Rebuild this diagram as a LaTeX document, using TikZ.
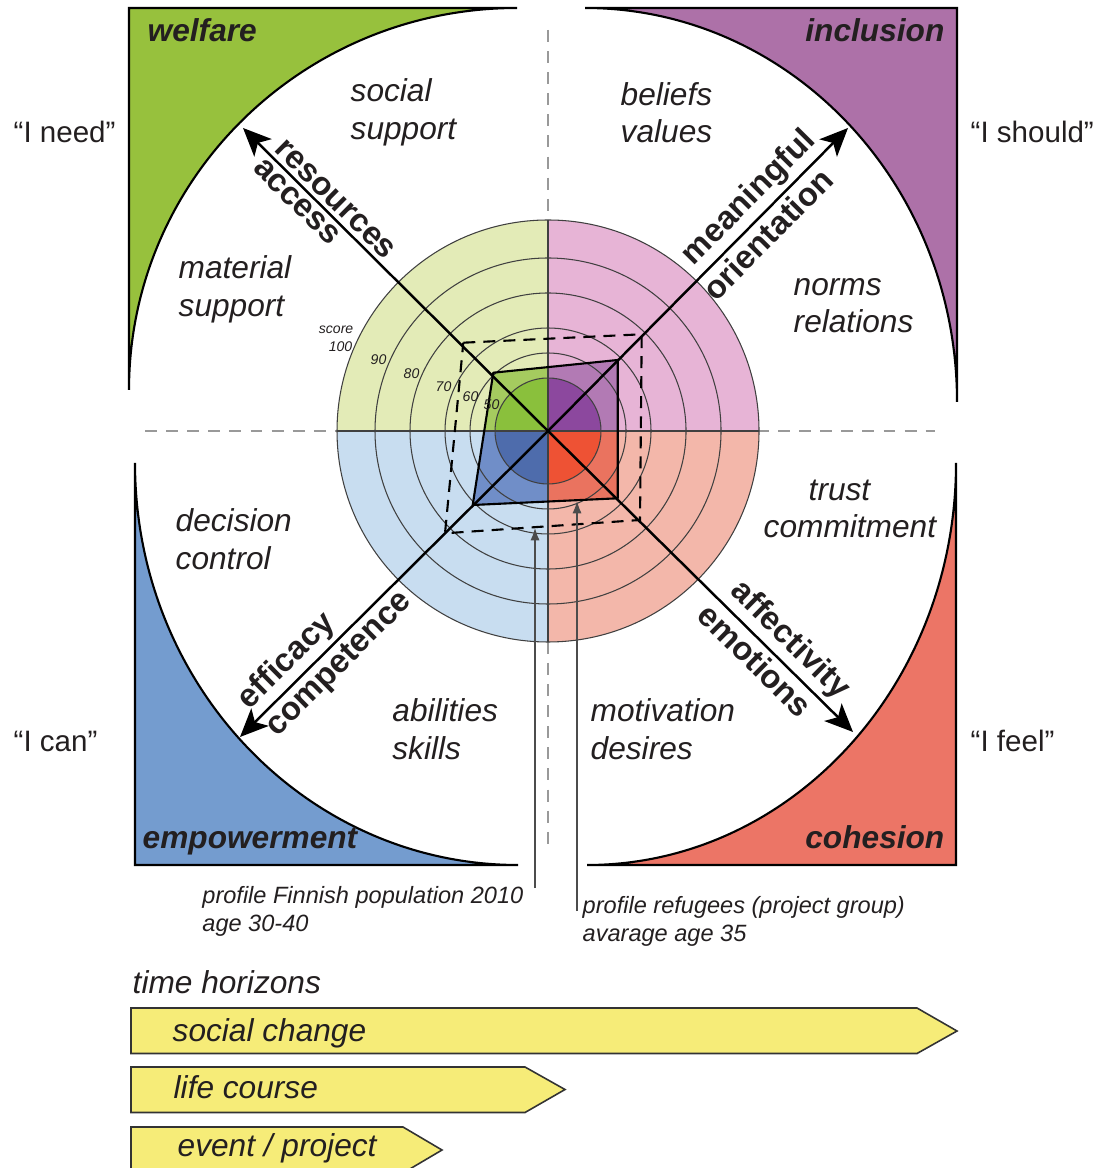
\documentclass[tikz,border=0pt]{standalone}
\usepackage{fontspec}
\setmainfont{Liberation Sans}
\usepackage{tikz}
\usetikzlibrary{arrows.meta}
\definecolor{PanVert}{RGB}{151,193,61}
\definecolor{PanViolet}{RGB}{173,113,168}
\definecolor{PanBleu}{RGB}{116,156,207}
\definecolor{PanRouge}{RGB}{236,117,102}
\definecolor{ClairVert}{RGB}{227,235,183}
\definecolor{ClairRose}{RGB}{231,180,214}
\definecolor{ClairBleu}{RGB}{200,221,240}
\definecolor{ClairRouge}{RGB}{243,183,170}
\definecolor{MoyenVert}{RGB}{165,203,95}
\definecolor{MoyenViolet}{RGB}{178,122,180}
\definecolor{MoyenBleu}{RGB}{112,142,200}
\definecolor{MoyenRouge}{RGB}{234,115,95}
\definecolor{FonceVert}{RGB}{138,192,60}
\definecolor{FonceViolet}{RGB}{140,72,158}
\definecolor{FonceBleu}{RGB}{78,108,172}
\definecolor{FonceRouge}{RGB}{238,82,52}
\definecolor{Jaune}{RGB}{246,236,120}
\definecolor{Encre}{RGB}{35,31,32}
\tikzset{
Cadre/.style={
 draw=black,
 line width=0.6pt
 },
Axe/.style={
 draw=black,
 line width=0.7pt,
 -{Stealth[length=8pt,width=7pt,inset=2pt]}
 },
AxeTexte/.style={
 sloped,
 inner sep=1.2pt,
 text=Encre,
 font=\fontsize{9.3}{11}\selectfont\bfseries
 },
Anneau/.style={
 draw=black!75,
 line width=0.3pt
 },
Croix/.style={
 draw=black!40,
 line width=0.4pt,
 dash pattern=on 3.4pt off 2.6pt
 },
ProfilRef/.style={
 draw=black,
 line width=0.6pt,
 line join=round
 },
ProfilFin/.style={
 draw=black,
 line width=0.6pt,
 dash pattern=on 3.4pt off 2.3pt
 },
Repere/.style={
 draw=black!70,
 line width=0.35pt,
 -{Latex[length=3.5pt,width=2.6pt]}
 },
Titre/.style={
 inner sep=0pt,
 text=Encre,
 font=\fontsize{9}{10.8}\selectfont\bfseries\itshape
 },
Qtexte/.style={
 inner sep=0pt,
 anchor=base west,
 align=left,
 text=Encre,
 font=\fontsize{9}{10.8}\selectfont\itshape
 },
Voix/.style={
 inner sep=0pt,
 anchor=base west,
 text=Encre,
 font=\fontsize{8.4}{10}\selectfont
 },
Score/.style={
 inner sep=0pt,
 text=Encre,
 font=\fontsize{4}{4.8}\selectfont\itshape
 },
ProfilTexte/.style={
 inner sep=0pt,
 anchor=base west,
 align=left,
 text=Encre,
 font=\fontsize{6.7}{8.1}\selectfont\itshape
 },
Barre/.style={
 draw=black!80,
 line width=0.45pt,
 fill=Jaune
 }
}

\begin{document}
\begin{tikzpicture}[x=0.01cm,y=-0.01cm]
\useasboundingbox (0,0) rectangle (1102,1168);
\coordinate (c) at (548,431);
% corner panels
\filldraw[Cadre,fill=PanVert] (129,390) -- (129,8) -- (517,8)
 arc[start angle=270,end angle=180,x radius=388,y radius=382] -- cycle;
\filldraw[Cadre,fill=PanViolet] (585,8) -- (957,8) -- (957,402)
 arc[start angle=0,end angle=-90,x radius=372,y radius=394] -- cycle;
\filldraw[Cadre,fill=PanBleu] (135,463) -- (135,865) -- (518,865)
 arc[start angle=90,end angle=180,x radius=383,y radius=402] -- cycle;
\filldraw[Cadre,fill=PanRouge] (956,463) -- (956,865) -- (587,865)
 arc[start angle=90,end angle=0,x radius=369,y radius=402] -- cycle;
\draw[Croix] (548,30) -- (548,845);
\draw[Croix] (145,431) -- (935,431);
% score disc
\begin{scope}
\clip (c) circle[radius=211];
\fill[ClairVert] (c) rectangle ++(-211,-211);
\fill[ClairRose] (c) rectangle ++(211,-211);
\fill[ClairBleu] (c) rectangle ++(-211,211);
\fill[ClairRouge] (c) rectangle ++(211,211);
\end{scope}
\coordinate (rTL) at (493.3,372.7);
\coordinate (rTR) at (617.7,360);
\coordinate (rBR) at (617.7,498.3);
\coordinate (rBL) at (472.7,505);
\coordinate (fTL) at (463.3,342.7);
\coordinate (fTR) at (641.7,334.3);
\coordinate (fBR) at (640,520);
\coordinate (fBL) at (445,533.3);
\begin{scope}
\clip (rTL) -- (rTR) -- (rBR) -- (rBL) -- cycle;
\fill[MoyenVert] (c) rectangle ++(-211,-211);
\fill[MoyenViolet] (c) rectangle ++(211,-211);
\fill[MoyenBleu] (c) rectangle ++(-211,211);
\fill[MoyenRouge] (c) rectangle ++(211,211);
\end{scope}
\begin{scope}
\clip (c) circle[radius=53];
\fill[FonceVert] (c) rectangle ++(-60,-60);
\fill[FonceViolet] (c) rectangle ++(60,-60);
\fill[FonceBleu] (c) rectangle ++(-60,60);
\fill[FonceRouge] (c) rectangle ++(60,60);
\end{scope}
\draw[Anneau] (c) circle[radius=211] (c) circle[radius=173] (c) circle[radius=138]
 (c) circle[radius=103] (c) circle[radius=78] (c) circle[radius=53];
\draw[Anneau] (c) ++(-211,0) -- ++(422,0) (c) ++(0,-211) -- ++(0,422);
\draw[ProfilRef] (rTL) -- (rTR) -- (rBR) -- (rBL) -- cycle;
\draw[ProfilFin] (fTL) -- (fTR) -- (fBR) -- (fBL) -- cycle;
% axes
\coordinate (pTL) at (243,128);
\coordinate (pTR) at (848,128);
\coordinate (pBL) at (240,737);
\coordinate (pBR) at (853,732);
\draw[Axe] (c) -- (pTL)
 node[AxeTexte,pos=0.73,above] (lRes) {resources}
 node[AxeTexte,pos=0.79,below] (lAcc) {access};
\draw[Axe] (c) -- (pTR)
 node[AxeTexte,pos=0.72,above] (lMea) {meaningful}
 node[AxeTexte,pos=0.69,below] (lOri) {orientation};
\draw[Axe] (c) -- (pBL)
 node[AxeTexte,pos=0.80,above] (lEff) {efficacy}
 node[AxeTexte,pos=0.72,below] (lCom) {competence};
\draw[Axe] (c) -- (pBR)
 node[AxeTexte,pos=0.745,above] (lAff) {affectivity}
 node[AxeTexte,pos=0.72,below] (lEmo) {emotions};
% titles
\node[Titre,anchor=base west] (tWel) at (147,41.7) {welfare};
\node[Titre,anchor=base east] (tInc) at (945,41.7) {inclusion};
\node[Titre,anchor=base west] (tEmp) at (142,848.3) {empowerment};
\node[Titre,anchor=base east] (tCoh) at (945,848.3) {cohesion};
\node[Voix] (vNeed) at (13,143) {“I need”};
\node[Voix] (vShould) at (970,143) {“I should”};
\node[Voix] (vCan) at (13,751) {“I can”};
\node[Voix] (vFeel) at (970,751) {“I feel”};
% quadrant texts (base = last line)
\node[Qtexte] (socSup) at (350,139.7) {social\\support};
\node[Qtexte] (matSup) at (178,316.3) {material\\support};
\node[Qtexte] (belVal) at (620,143) {beliefs\\values};
\node[Qtexte] (norRel) at (793,333) {norms\\relations};
\node[Qtexte] (decCon) at (175,569.7) {decision\\control};
\node[Qtexte] (abiSki) at (391.7,759.7) {abilities\\skills};
\node[Qtexte] (truCom) at (763,538) {\hspace*{12.8pt}trust\\commitment};
\node[Qtexte] (motDes) at (590,759.7) {motivation\\desires};
% score scale
\node[Score,anchor=base east] (sMot) at (354,334) {score};
\node[Score,anchor=base east] (s100) at (353,351.7) {100};
\node[Score,anchor=base west] (s90) at (370,365) {90};
\node[Score,anchor=base west] (s80) at (403,378.3) {80};
\node[Score,anchor=base west] (s70) at (435,391.7) {70};
\node[Score,anchor=base west] (s60) at (462,401.7) {60};
\node[Score,anchor=base west] (s50) at (483,410) {50};
% profiles
\coordinate (finBas) at (535,888);
\coordinate (finPt) at (535,528);
\coordinate (refBas) at (577,911);
\coordinate (refPt) at (577,501);
\draw[Repere] (finBas) -- (finPt);
\draw[Repere] (refBas) -- (refPt);
\node[ProfilTexte] (txFin) at (201.7,931.7) {profile Finnish population 2010\\age 30-40};
\node[ProfilTexte] (txRef) at (582,941.7) {profile refugees (project group)\\avarage age 35};
% time horizons
\node[Qtexte] (hTitre) at (132,993) {time horizons};
\draw[Barre] (131,1008) -- (917,1008) -- (957,1031) -- (917,1053.5) -- (131,1053.5) -- cycle;
\draw[Barre] (131,1067) -- (525,1067) -- (565,1089.5) -- (525,1112.5) -- (131,1112.5) -- cycle;
\draw[Barre] (131,1127) -- (403,1127) -- (442,1150) -- (403,1173) -- (131,1173) -- cycle;
\node[Qtexte] (hSoc) at (172,1041.7) {social change};
\node[Qtexte] (hVie) at (173,1098.3) {life course};
\node[Qtexte] (hEve) at (177,1156.7) {event / project};
\end{tikzpicture}
\end{document}
